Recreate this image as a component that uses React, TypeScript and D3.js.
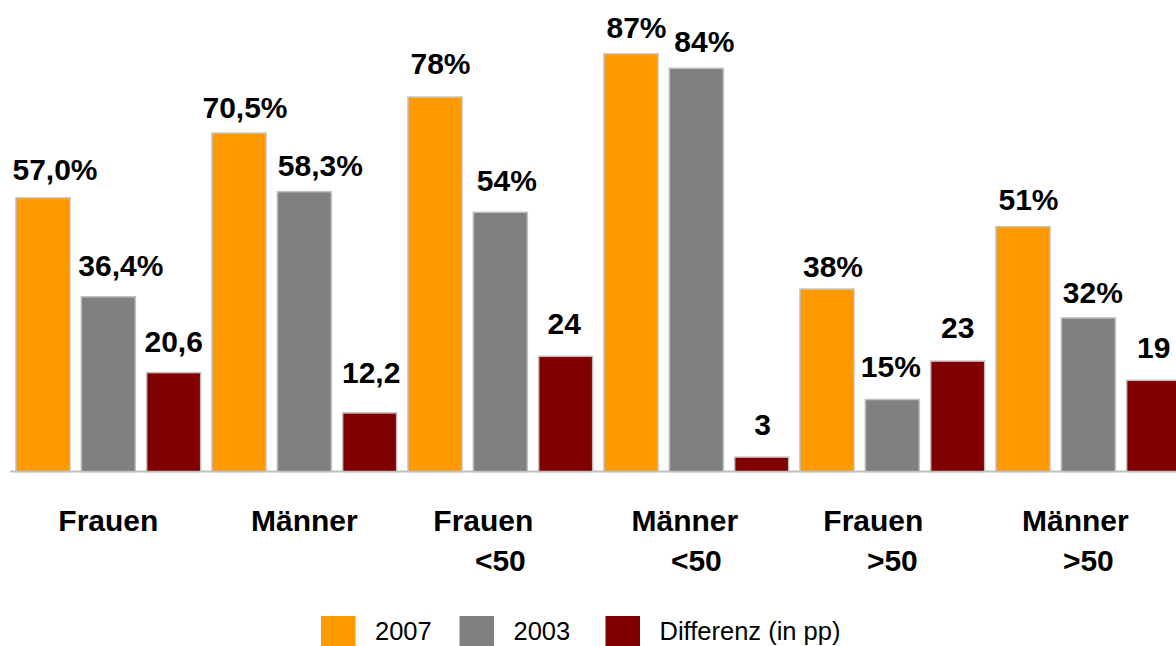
import React from "react";
import * as d3 from "d3";

const categories = ["Frauen", "Männer", "Frauen <50", "Männer <50", "Frauen >50", "Männer >50"];
const categoryLine1 = ["Frauen", "Männer", "Frauen", "Männer", "Frauen", "Männer"];
const categoryLine2 = ["", "", "<50", "<50", ">50", ">50"];
const seriesNames = ["2007", "2003", "Differenz (in pp)"];
const values2007 = [57.0, 70.5, 78, 87, 38, 51];
const values2003 = [36.4, 58.3, 54, 84, 15, 32];
const valuesDiff = [20.6, 12.2, 24, 3, 23, 19];
const labels2007 = ["57,0%", "70,5%", "78%", "87%", "38%", "51%"];
const labels2003 = ["36,4%", "58,3%", "54%", "84%", "15%", "32%"];
const labelsDiff = ["20,6", "12,2", "24", "3", "23", "19"];

// label placement tweaks (style, not data)
const labelDx = [
  [12, 12.5, 0],
  [6, 16, 1.5],
  [5.5, 6.5, -1.5],
  [5.5, 8, 1],
  [6, -1.5, 0],
  [5.5, 4.5, 0],
];
const labelGap = [
  [17.7, 20.4, 21],
  [14.7, 16, 30],
  [23.4, 21.6, 22.7],
  [16, 16, 21.7],
  [12.5, 23, 23],
  [16.7, 14.6, 22],
];
const line1Dx = [0, 0, -17, -11.5, -19, -13];

const colors = ["#FF9900", "#808080", "#800000"];
const W = 1176;
const H = 646;
const baseY = 471.5;
const FONT = "'Liberation Sans', Arial, Helvetica, sans-serif";

export default function App() {
  const series = [values2007, values2003, valuesDiff];
  const seriesLabels = [labels2007, labels2003, labelsDiff];

  const x0 = d3.scaleBand<string>().domain(categories).range([10.33, 10.33 + 196 * 6]).padding(0);
  const p = 11.33 / 65.33;
  const x1 = d3
    .scaleBand<string>()
    .domain(seriesNames)
    .range([0, x0.bandwidth()])
    .paddingInner(p)
    .paddingOuter(p / 2);
  const y = d3.scaleLinear().domain([0, 100]).range([baseY, baseY - 480]);

  return (
    <svg
      width={W}
      height={H}
      style={{ position: "absolute", left: 0, top: 0, background: "#fff" }}
      fontFamily={FONT}
    >
      <line x1={x0.range()[0]} x2={W} y1={baseY} y2={baseY} stroke="#bfbfbf" strokeWidth={2} />
      {categories.map((c, gi) => (
        <g key={c}>
          {seriesNames.map((s, si) => {
            const v = series[si][gi];
            const bx = (x0(c) as number) + (x1(s) as number);
            const bw = x1.bandwidth();
            const top = y(v);
            return (
              <g key={s}>
                <rect
                  x={bx}
                  y={top}
                  width={bw}
                  height={baseY - top}
                  fill={colors[si]}
                  stroke="#c0c0c0"
                  strokeWidth={1.5}
                />
                <text
                  x={bx + bw / 2 + labelDx[gi][si]}
                  y={top - labelGap[gi][si]}
                  textAnchor="middle"
                  fontWeight="bold"
                  fontSize={30}
                  fill="#000"
                >
                  {seriesLabels[si][gi]}
                </text>
              </g>
            );
          })}
          <text
            x={(x0(c) as number) + x0.bandwidth() / 2 + line1Dx[gi]}
            y={531}
            textAnchor="middle"
            fontWeight="bold"
            fontSize={30}
            fill="#000"
          >
            {categoryLine1[gi]}
          </text>
          {categoryLine2[gi] && (
            <text
              x={(x0(c) as number) + x0.bandwidth() / 2}
              y={571}
              textAnchor="middle"
              fontWeight="bold"
              fontSize={30}
              fill="#000"
            >
              {categoryLine2[gi]}
            </text>
          )}
        </g>
      ))}
      {/* legend */}
      {seriesNames.map((s, si) => {
        const lx = [321, 459.5, 605.5][si];
        return (
          <g key={s}>
            <rect x={lx} y={616} width={34.5} height={30} fill={colors[si]} />
            <text x={lx + 54} y={640} fontSize={25.5} fill="#000">
              {s}
            </text>
          </g>
        );
      })}
    </svg>
  );
}
